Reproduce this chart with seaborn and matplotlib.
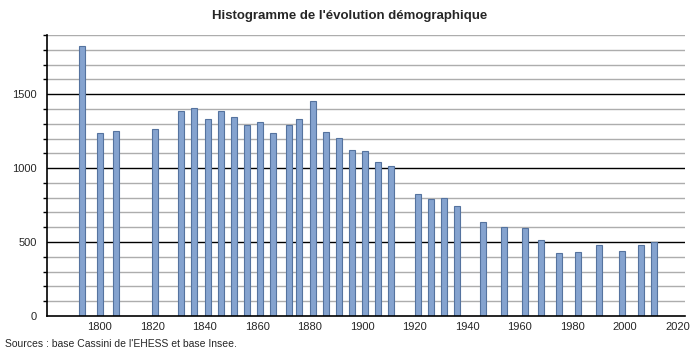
import matplotlib
matplotlib.use("Agg")
import matplotlib.pyplot as plt
import seaborn as sns
import pandas as pd
from matplotlib.ticker import MultipleLocator

years = [1793, 1800, 1806, 1821, 1831, 1836, 1841, 1846, 1851, 1856,
         1861, 1866, 1872, 1876, 1881, 1886, 1891, 1896, 1901, 1906,
         1911, 1921, 1926, 1931, 1936, 1946, 1954, 1962, 1968, 1975,
         1982, 1990, 1999, 2006, 2011]
population = [1826, 1237, 1251, 1264, 1387, 1407, 1332, 1387, 1344, 1289,
              1310, 1235, 1289, 1332, 1455, 1242, 1203, 1126, 1113, 1045,
              1013, 823, 789, 795, 741, 639, 605, 598, 517, 428,
              435, 483, 442, 483, 503]
x_ticks = [1800, 1820, 1840, 1860, 1880, 1900, 1920, 1940, 1960, 1980, 2000, 2020]
y_ticks = [0, 500, 1000, 1500]

title = "Histogramme de l'évolution démographique"
source = "Sources : base Cassini de l'EHESS et base Insee."

sns.set_style("white")
plt.rcParams['font.family'] = ['Liberation Sans', 'DejaVu Sans']

df = pd.DataFrame({"annee": years, "pop": population})

fig = plt.figure(figsize=(7.0, 3.55), dpi=100)
ax = fig.add_axes([0.067, 0.110, 0.912, 0.791])

# grid lines
for v in range(100, 1900 + 1, 100):
    if v % 500 == 0:
        ax.axhline(v, color="black", lw=1.0, zorder=0)
    else:
        ax.axhline(v, color="#adadad", lw=1.0, zorder=0)

sns.barplot(data=df, x="annee", y="pop", native_scale=True, width=0.58,
            color="#85a3cf", edgecolor="#55739f", linewidth=0.8,
            saturation=1, errorbar=None, ax=ax, zorder=2)

ax.set_xlim(1779.8, 2023)
ax.set_ylim(0, 1900)
ax.set_xticks(x_ticks)
ax.set_xticklabels([str(t) for t in x_ticks])
ax.set_yticks(y_ticks)
ax.set_yticklabels([str(t) for t in y_ticks])
ax.yaxis.set_minor_locator(MultipleLocator(100))
ax.tick_params(axis="x", length=0, labelsize=8, pad=4)
ax.tick_params(axis="y", which="major", length=4, width=1, labelsize=8, direction="out", color="black")
ax.tick_params(axis="y", which="minor", length=3, width=1, direction="out", color="black", left=True)
ax.set_xlabel("")
ax.set_ylabel("")

for s in ["top", "right"]:
    ax.spines[s].set_visible(False)
for s in ["left", "bottom"]:
    ax.spines[s].set_color("black")
    ax.spines[s].set_linewidth(1.2)

fig.text(0.5, 0.955, title, ha="center", va="center", fontsize=9.5, fontweight="bold")
fig.text(0.007, 0.032, source, ha="left", va="center", fontsize=7.5)

fig.savefig("out.png", dpi=100)
